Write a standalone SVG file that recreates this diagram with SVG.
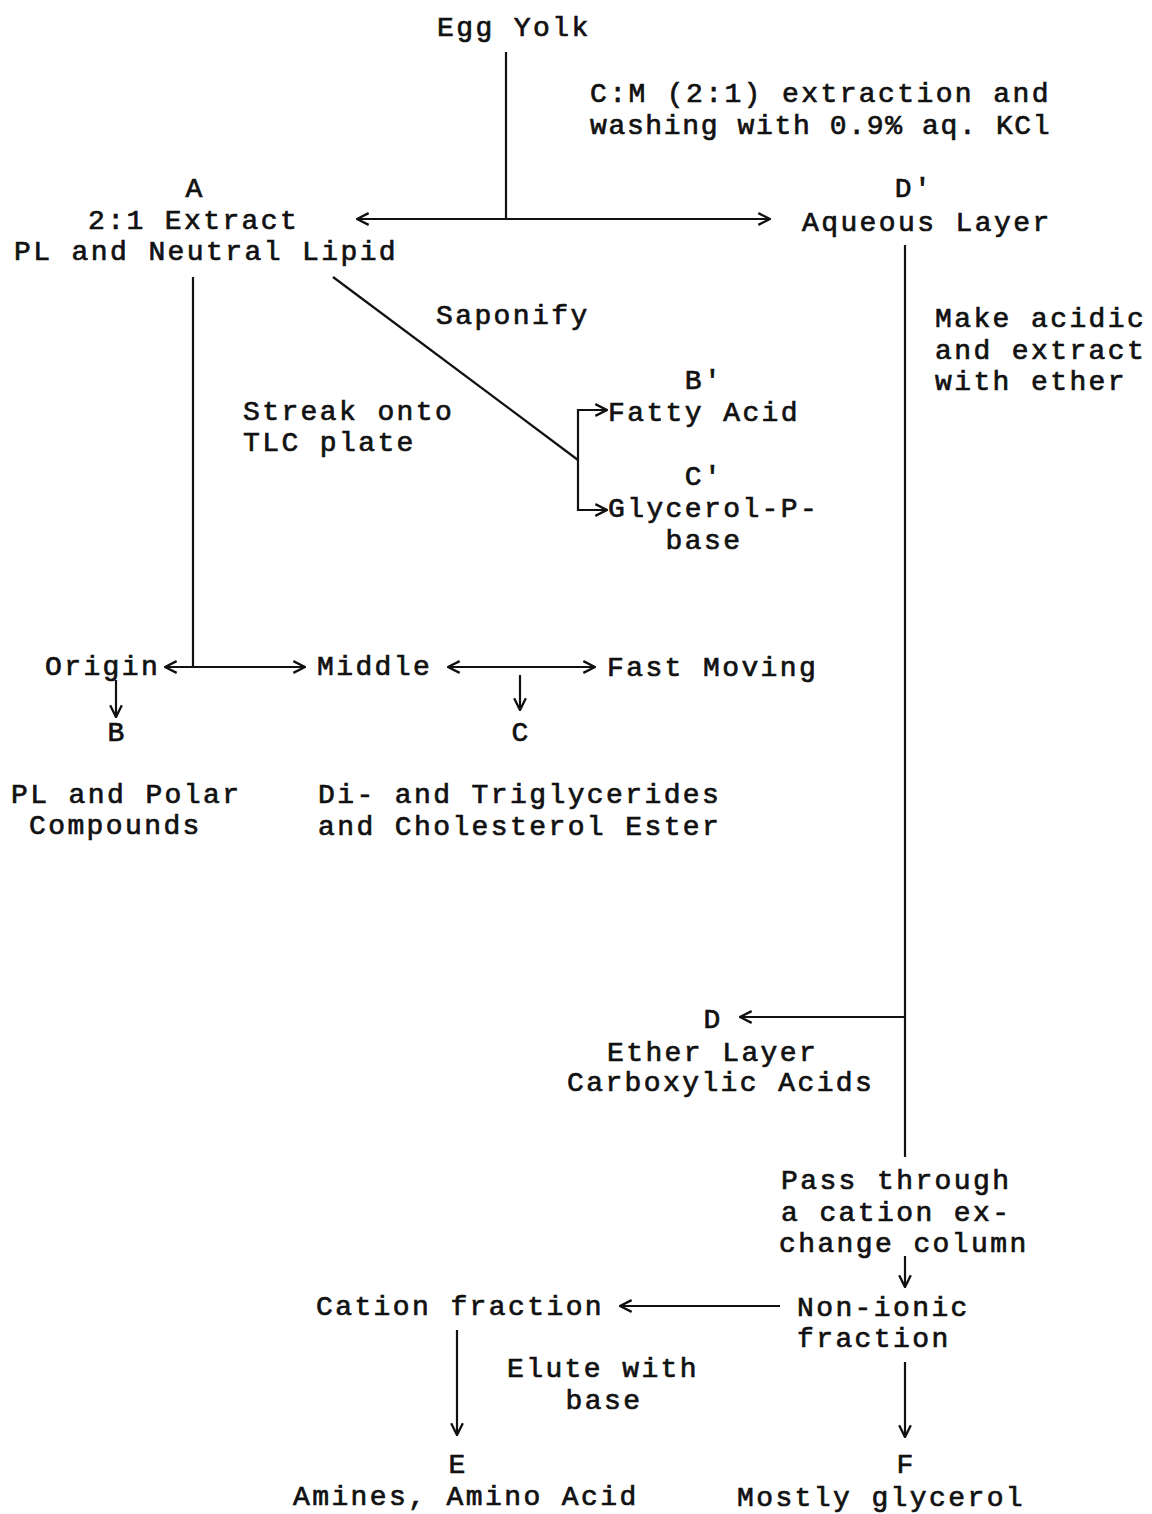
<svg xmlns="http://www.w3.org/2000/svg" width="1152" height="1514" viewBox="0 0 1152 1514">
<style>
text{font-family:"Liberation Mono","Courier New",monospace;font-size:28px;letter-spacing:2.4px;fill:#111;stroke:#111;stroke-width:0.7}
.c{text-anchor:middle}
line,polyline{stroke:#111;stroke-width:2.2;fill:none}
</style>
<defs>
<marker id="ah" viewBox="0 0 12 12" refX="11" refY="6" markerWidth="14" markerHeight="14" markerUnits="userSpaceOnUse" orient="auto-start-reverse">
<path d="M1,1 L11,6 L1,11" fill="none" stroke="#111" stroke-width="2"/>
</marker>
</defs>
<rect width="1152" height="1514" fill="#fff"/>
<g id="connectors">
<line x1="506" y1="52" x2="506" y2="219"/>
<line x1="357" y1="219" x2="770" y2="219" marker-start="url(#ah)" marker-end="url(#ah)"/>
<line x1="905" y1="245" x2="905" y2="1157"/>
<line x1="905" y1="1017" x2="740" y2="1017" marker-end="url(#ah)"/>
<line x1="193" y1="277" x2="193" y2="667"/>
<line x1="165" y1="667" x2="305" y2="667" marker-start="url(#ah)" marker-end="url(#ah)"/>
<line x1="333" y1="277" x2="578" y2="460"/>
<polyline points="607,410 578,410 578,510 607,510"/>
<line x1="600" y1="410" x2="607" y2="410" marker-end="url(#ah)"/>
<line x1="600" y1="510" x2="607" y2="510" marker-end="url(#ah)"/>
<line x1="116" y1="680" x2="116" y2="717" marker-end="url(#ah)"/>
<line x1="448" y1="667" x2="595" y2="667" marker-start="url(#ah)" marker-end="url(#ah)"/>
<line x1="520" y1="675" x2="520" y2="710" marker-end="url(#ah)"/>
<line x1="905" y1="1256" x2="905" y2="1287" marker-end="url(#ah)"/>
<line x1="780" y1="1306" x2="620" y2="1306" marker-end="url(#ah)"/>
<line x1="457" y1="1330" x2="457" y2="1435" marker-end="url(#ah)"/>
<line x1="905" y1="1362" x2="905" y2="1437" marker-end="url(#ah)"/>
</g>
<g id="egg-yolk"><text x="437" y="36">Egg Yolk</text></g>
<g id="cm-label"><text x="590" y="102">C:M (2:1) extraction and</text><text x="590" y="134" textLength="462" lengthAdjust="spacing">washing with 0.9% aq. KCl</text></g>
<g id="node-a"><text class="c" x="195" y="197">A</text><text x="88" y="229">2:1 Extract</text><text x="14" y="260">PL and Neutral Lipid</text></g>
<g id="node-d-prime"><text class="c" x="914" y="197">D'</text><text x="802" y="231">Aqueous Layer</text></g>
<g id="acid-label"><text x="935" y="327">Make acidic</text><text x="935" y="359">and extract</text><text x="935" y="390">with ether</text></g>
<g id="saponify-label"><text x="436" y="324">Saponify</text></g>
<g id="streak-label"><text x="243" y="420">Streak onto</text><text x="243" y="451">TLC plate</text></g>
<g id="node-b-prime"><text class="c" x="704" y="389">B'</text><text x="608" y="421">Fatty Acid</text></g>
<g id="node-c-prime"><text class="c" x="704" y="485">C'</text><text x="608" y="517">Glycerol-P-</text><text class="c" x="704" y="549">base</text></g>
<g id="origin"><text x="45" y="675">Origin</text></g>
<g id="middle"><text x="317" y="675">Middle</text></g>
<g id="fast-moving"><text x="607" y="676">Fast Moving</text></g>
<g id="node-b"><text class="c" x="117" y="741">B</text><text x="11" y="803">PL and Polar</text><text x="29" y="834">Compounds</text></g>
<g id="node-c"><text class="c" x="521" y="741">C</text><text x="318" y="803">Di- and Triglycerides</text><text x="318" y="835">and Cholesterol Ester</text></g>
<g id="node-d"><text class="c" x="713" y="1028">D</text><text x="607" y="1061">Ether Layer</text><text x="567" y="1091">Carboxylic Acids</text></g>
<g id="cation-label"><text x="781" y="1189">Pass through</text><text x="781" y="1221">a cation ex-</text><text x="779" y="1252">change column</text></g>
<g id="cation-fraction"><text x="316" y="1315">Cation fraction</text></g>
<g id="non-ionic"><text x="797" y="1316">Non-ionic</text><text x="797" y="1347">fraction</text></g>
<g id="elute-label"><text x="507" y="1377">Elute with</text><text class="c" x="604" y="1409">base</text></g>
<g id="node-e"><text class="c" x="458" y="1473">E</text><text x="293" y="1505">Amines, Amino Acid</text></g>
<g id="node-f"><text class="c" x="906" y="1473">F</text><text x="737" y="1506">Mostly glycerol</text></g>
</svg>
